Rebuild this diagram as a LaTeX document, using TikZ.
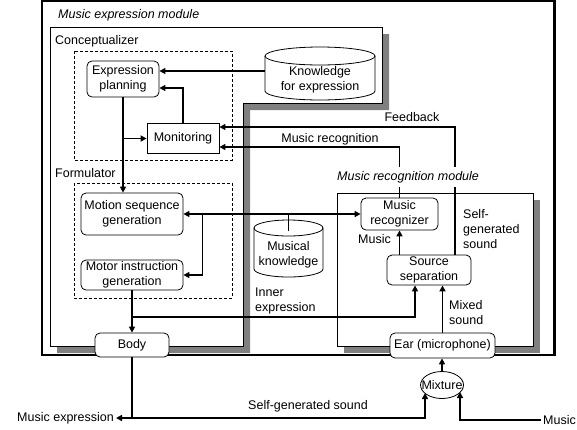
\documentclass[tikz,border=0pt]{standalone}
\usepackage{fontspec}
\setmainfont{Liberation Sans}
\usetikzlibrary{arrows.meta,calc,shapes.geometric}
\begin{document}
\begin{tikzpicture}[x=1pt,y=-1pt,
  every node/.style={font=\fontsize{12.5}{15}\selectfont, inner sep=1pt, align=center},
  box/.style={draw, line width=0.8pt, fill=white, rounded corners=5pt},
  sqbox/.style={draw, line width=0.8pt, fill=white},
  conn/.style={line width=1.8pt},
  arr/.style={conn, -{Triangle[length=6pt,width=6pt]}},
  darr/.style={conn, {Triangle[length=6pt,width=6pt]}-{Triangle[length=6pt,width=6pt]}},
  dbox/.style={draw, line width=1pt, dash pattern=on 3pt off 2pt},
  shade/.style={fill=black!50},
  frame/.style={draw, line width=0.8pt, fill=white},
  lbl/.style={anchor=west, align=left},
]
\useasboundingbox (0,0) rectangle (577,429);
% outer frame
\draw[line width=2.2pt] (42,1.2) rectangle (554.5,355);
% music expression module (L shape) with shadow
\fill[shade] (57,34) -- (389,34) -- (389,110) -- (250,110) -- (250,353) -- (57,353) -- cycle;
\path[frame] (50,27) -- (382,27) -- (382,103) -- (243,103) -- (243,346) -- (50,346) -- cycle;
% music recognition module with shadow
\fill[shade] (344,200) rectangle (540,353);
\path[frame] (337,193) rectangle (533,346);
% dashed boxes
\draw[dbox] (74,51) rectangle (232,160);
\draw[dbox] (74,183) rectangle (232,298);
% cylinders
\path[frame] (265,56) -- (265,91) arc[start angle=180, end angle=360, x radius=55pt, y radius=9pt]
  -- (375,56) arc[start angle=0, end angle=180, x radius=55pt, y radius=9pt] -- cycle;
\draw[line width=0.8pt] (265,56) arc[start angle=180, end angle=360, x radius=55pt, y radius=9pt];
\path[frame] (254,228) -- (254,269) arc[start angle=180, end angle=360, x radius=34.5pt, y radius=8pt]
  -- (323,228) arc[start angle=0, end angle=180, x radius=34.5pt, y radius=8pt] -- cycle;
\draw[line width=0.8pt] (254,228) arc[start angle=180, end angle=360, x radius=34.5pt, y radius=8pt];

% nodes
\node[minimum width=110pt] (kexp) at (320,80) {Knowledge\\for expression};
\node[minimum width=69pt] (mknow) at (288.5,255) {Musical\\knowledge};
\node[box, minimum width=72pt, minimum height=36pt] (plan) at (123,79) {Expression\\planning};
\node[sqbox, minimum width=72pt, minimum height=30pt] (mon) at (183,138.5) {Monitoring};
\node[box, minimum width=102pt, minimum height=42pt] (mseq) at (132,214) {Motion sequence\\generation};
\node[box, minimum width=102pt, minimum height=30pt] (minst) at (132,275) {Motor instruction\\generation};
\node[box, minimum width=74pt, minimum height=24pt] (body) at (132,345) {Body};
\node[box, minimum width=77pt, minimum height=32pt] (mrec) at (399.5,214) {Music\\recognizer};
\node[box, minimum width=84pt, minimum height=30pt] (ssep) at (429,270) {Source\\separation};
\node[box, minimum width=105pt, minimum height=25pt] (ear) at (442.5,345.5) {Ear (microphone)};
\node[draw, ellipse, line width=0.8pt, fill=white, minimum width=43pt, minimum height=27pt, inner sep=0pt] (mix) at (442,385) {\makebox[0pt]{Mixture}};
\node[anchor=east, inner sep=2pt] (mexp) at (116,418) {Music expression};
\node[anchor=west, inner sep=2pt] (music) at (541,420) {Music};

% labels
\node[lbl] (lmem) at (57,15) {\itshape Music expression module};
\node[lbl] (lc) at (54,41) {Conceptualizer};
\node[lbl] (lf) at (54,173) {Formulator};
\node (lfb) at (412,117.5) {Feedback};
\node (lmr) at (330,139.5) {Music recognition};
\node[lbl] (lm) at (357,239) {Music};
\node[lbl] (lsg) at (462,229.5) {Self-\\generated\\sound};
\node[lbl] (lms) at (448,313) {Mixed\\sound};
\node[lbl] (lie) at (254,300.5) {Inner\\expression};
\node (lsgs) at (308,406) {Self-generated sound};

% coordinates
\coordinate (pa) at ($(plan.east)+(0,-8)$);
\coordinate (pb) at ($(plan.east)+(0,9)$);
\coordinate (ma) at ($(mon.east)+(0,-11.5)$);
\coordinate (mb) at ($(mon.east)+(0,8.5)$);
\coordinate (fb) at ($(ssep.north)+(26,0)$);
\coordinate (mk) at (288.5,231);
\coordinate (br) at ($(mseq.east)+(19,0)$);
\coordinate (j) at ($(body.north)+(0,-16)$);
\coordinate (ie) at ($(ssep.south)+(-14,0)$);
\coordinate (bj) at (body.south |- mexp.east);

% connectors
\draw[arr] (kexp.west |- pa) -- (pa);
\draw[arr] (mon.north) |- (pb);
\draw[arr] (plan.south) -- (plan.south |- mseq.north);
\draw[arr] (plan.south |- mon.west) -- (mon.west);
\draw[arr] (fb) |- (ma);
\draw[arr] (mrec.north) |- (mb);
\draw[darr] (mseq.east) -- (mrec.west);
\draw[conn] (mk) -- (mk |- mseq.east);
\draw[arr] (br) |- (minst.east);
\draw[arr] (minst.south) -- (body.north);
\draw[arr] (j) -| (ie);
\draw[arr] (mrec.south |- ssep.north) -- (mrec.south);
\draw[arr] (ear.north) -- (ear.north |- ssep.south);
\draw[arr] (mix.north) -- (mix.north |- ear.south);
\draw[conn] (body.south) -- (bj);
\draw[arr] (bj) -- (mexp.east);
\draw[arr] (bj) -| ($(mix.center)+(-17,8)$);
\draw[arr] (music.west) -| ($(mix.center)+(18,7)$);

% module label over lines
\node[lbl, fill=white, inner xsep=1pt, inner ysep=4pt] (lmrm) at (336,177) {\itshape Music recognition module};
\end{tikzpicture}
\end{document}
